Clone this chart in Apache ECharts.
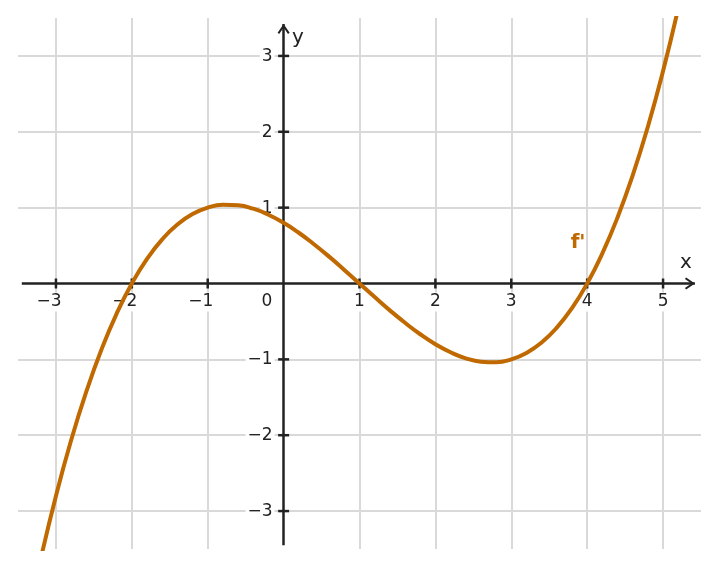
<!DOCTYPE html>
<html><head><meta charset="utf-8">
<script src="https://cdn.jsdelivr.net/npm/echarts@6/dist/echarts.min.js"></script>
<style>html,body{margin:0;padding:0;background:#fff}#c{width:719px;height:567px}</style>
</head><body><div id="c"></div>
<script>
// ---- data ----
const xRange = [-3.5, 5.5];
const yRange = [-3.5, 3.5];
const xGridTicks = [-3, -2, -1, 1, 2, 3, 4, 5];
const yGridTicks = [-3, -2, -1, 1, 2, 3];
const xTickLabels = ['−3', '−2', '−1', '1', '2', '3', '4', '5'];
const yTickLabels = ['−3', '−2', '−1', '1', '2', '3'];
const originLabel = '0';
const xAxisSpan = [-3.45, 5.42];
const yAxisSpan = [-3.45, 3.42];
const xAxisName = 'x';
const yAxisName = 'y';
const xNameAt = [5.30, 0.27];
const yNameAt = [0.19, 3.24];
const curveName = "f'";
const curveNameAt = [3.88, 0.53];
const curveX = [-3.2, -3.0, -2.8, -2.6, -2.4, -2.2, -2.0, -1.8, -1.6, -1.4, -1.2, -1.0, -0.8, -0.6, -0.4, -0.2,
  0.0, 0.2, 0.4, 0.6, 0.8, 1.0, 1.2, 1.4, 1.6, 1.8, 2.0, 2.2, 2.4, 2.6, 2.8, 3.0, 3.2, 3.4, 3.6, 3.8,
  4.0, 4.2, 4.4, 4.6, 4.8, 5.0, 5.2];
const curveY = [-3.629, -2.800, -2.067, -1.426, -0.870, -0.397, 0.000, 0.325, 0.582, 0.778, 0.915, 1.000, 1.037, 1.030, 0.986, 0.907,
  0.800, 0.669, 0.518, 0.354, 0.179, 0.000, -0.179, -0.354, -0.518, -0.669, -0.800, -0.907, -0.986, -1.030, -1.037, -1.000, -0.915, -0.778, -0.582, -0.325,
  0.000, 0.397, 0.870, 1.426, 2.067, 2.800, 3.629];

// ---- styles ----
const INK = '#222222';
const GRIDC = '#d9d9d9';
const CURVEC = '#bf6900';
const FONT = 'DejaVu Sans';
const chevron = 'path://M6,0L12,8.6L10.4,9.8L6,3.4L1.6,9.8L0,8.6Z';

const chart = echarts.init(document.getElementById('c'), null, {renderer: 'canvas'});

const gridLines = [];
xGridTicks.forEach(v => gridLines.push({xAxis: v}));
yGridTicks.forEach(v => gridLines.push({yAxis: v}));

const xTickData = xGridTicks.map((v, i) => ({
  value: [v, 0],
  label: {formatter: xTickLabels[i], offset: [v < 0 ? -7 : 0, 18.5]}
}));
const yTickData = yGridTicks.map((v, i) => ({
  value: [0, v],
  label: {formatter: yTickLabels[i], align: 'right', offset: [-9, 0.5]}
}));

const tickLabel = {show: true, position: 'inside', color: INK, fontFamily: FONT, fontSize: 17,
  backgroundColor: '#ffffff', padding: [1, 2]};

const option = {
  animation: false,
  backgroundColor: '#ffffff',
  grid: {left: 18, right: 18, top: 18, bottom: 18, containLabel: false},
  xAxis: {type: 'value', min: xRange[0], max: xRange[1], show: false},
  yAxis: {type: 'value', min: yRange[0], max: yRange[1], show: false},
  series: [
    { // grid lines
      type: 'line', data: [], z: 1, silent: true,
      markLine: {
        z: 1, silent: true, symbol: ['none', 'none'], animation: false,
        label: {show: false},
        lineStyle: {color: GRIDC, width: 2, type: 'solid'},
        emphasis: {disabled: true},
        data: gridLines
      }
    },
    { // axes with arrows
      type: 'line', data: [], z: 2, silent: true,
      markLine: {
        z: 2, silent: true, animation: false,
        symbol: ['none', chevron], symbolSize: [12, 10], symbolOffset: [0, [0, 5]],
        label: {show: false},
        lineStyle: {color: INK, width: 2.5, type: 'solid'},
        itemStyle: {color: INK},
        emphasis: {disabled: true},
        data: [
          [{coord: [xAxisSpan[0], 0]}, {coord: [xAxisSpan[1], 0]}],
          [{coord: [0, yAxisSpan[0]]}, {coord: [0, yAxisSpan[1]]}]
        ]
      }
    },
    { // x ticks
      type: 'scatter', z: 3, silent: true,
      symbol: 'rect', symbolSize: [2.5, 10],
      itemStyle: {color: INK, opacity: 1},
      label: tickLabel,
      data: xTickData
    },
    { // y ticks
      type: 'scatter', z: 3, silent: true,
      symbol: 'rect', symbolSize: [11, 2.5],
      itemStyle: {color: INK, opacity: 1},
      label: tickLabel,
      data: yTickData
    },
    { // origin label & axis names
      type: 'scatter', z: 3, silent: true,
      symbolSize: 0,
      itemStyle: {color: INK, opacity: 1},
      label: {show: true, position: 'inside', color: INK, fontFamily: FONT},
      data: [
        {value: [0, 0], label: {formatter: originLabel, fontSize: 17, offset: [-16.6, 18.2],
          backgroundColor: '#ffffff', padding: [1, 2]}},
        {value: xNameAt, label: {formatter: xAxisName, fontSize: 20}},
        {value: yNameAt, label: {formatter: yAxisName, fontSize: 20}}
      ]
    },
    { // curve
      name: curveName, type: 'line', z: 5,
      data: curveX.map((x, i) => [x, curveY[i]]),
      smooth: 0.5, showSymbol: false, symbol: 'none', clip: true,
      lineStyle: {color: CURVEC, width: 4},
      itemStyle: {color: CURVEC}
    },
    { // curve name
      type: 'scatter', z: 6, silent: true,
      symbolSize: 0,
      itemStyle: {color: CURVEC, opacity: 1},
      label: {show: true, position: 'inside', formatter: curveName, color: CURVEC,
        fontFamily: FONT, fontSize: 20, fontWeight: 'bold'},
      data: [curveNameAt]
    }
  ]
};
chart.setOption(option);
</script>
</body></html>
